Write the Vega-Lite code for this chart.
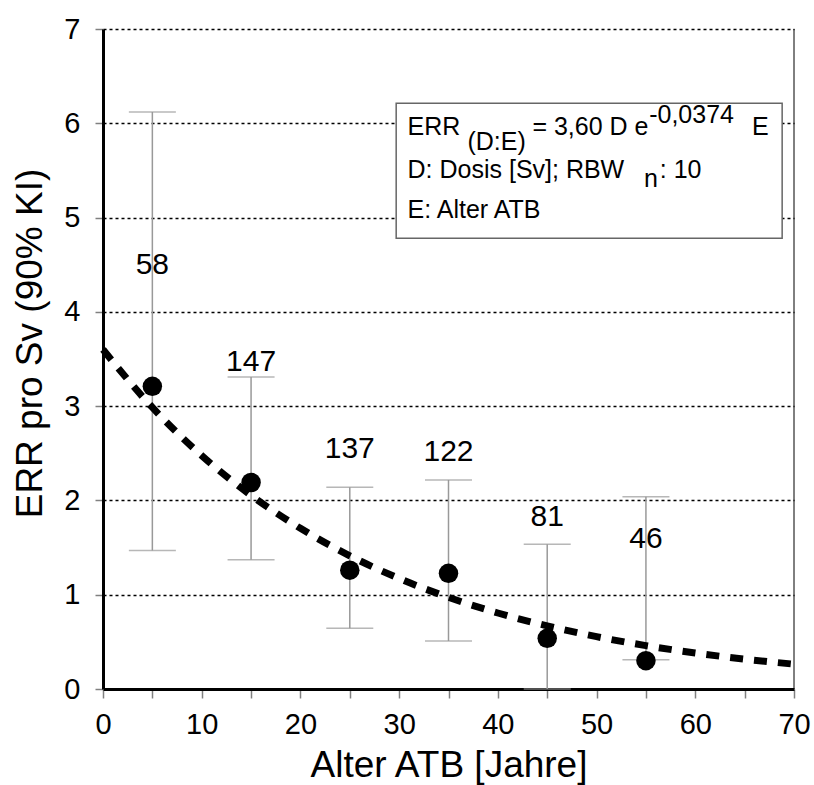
{
  "$schema": "https://vega.github.io/schema/vega-lite/v6.json",
  "width": 691,
  "height": 660,
  "autosize": {"type": "none"},
  "padding": {"left": 103, "top": 29, "right": 20, "bottom": 96},
  "background": "white",
  "config": {
    "view": {"stroke": null},
    "font": "Liberation Sans",
    "axisX": {"domainColor": "black", "domainWidth": 3, "tickColor": "#808080", "tickSize": 9, "tickWidth": 1.5, "labelFontSize": 29, "labelColor": "black", "labelPadding": 12, "titleFontSize": 37, "titleFontWeight": "normal", "titleColor": "black", "titlePadding": 8, "grid": false, "labelFlush": false, "zindex": 1},
    "axisY": {"domainColor": "black", "domainWidth": 3, "tickColor": "#808080", "tickSize": 8, "tickWidth": 1.5, "labelFontSize": 29, "labelColor": "black", "labelPadding": 15, "titleFontSize": 37, "titleFontWeight": "normal", "titleColor": "black", "titlePadding": 14, "gridDash": [3, 3], "gridWidth": 1.5, "labelFlush": false}
  },
  "datasets": {
    "pts": [
      {"age": 5, "err": 3.21, "lo": 1.47, "hi": 6.12, "n": "58", "ly": 4.50},
      {"age": 15, "err": 2.19, "lo": 1.37, "hi": 3.31, "n": "147", "ly": 3.47},
      {"age": 25, "err": 1.26, "lo": 0.644, "hi": 2.14, "n": "137", "ly": 2.545},
      {"age": 35, "err": 1.227, "lo": 0.509, "hi": 2.217, "n": "122", "ly": 2.51},
      {"age": 45, "err": 0.538, "lo": 0.0, "hi": 1.535, "n": "81", "ly": 1.82},
      {"age": 55, "err": 0.30, "lo": 0.31, "hi": 2.04, "n": "46", "ly": 1.59}
    ],
    "fit": [
      {"age": 0, "fit": 3.60}, {"age": 5, "fit": 2.986}, {"age": 10, "fit": 2.476}, {"age": 15, "fit": 2.054},
      {"age": 20, "fit": 1.704}, {"age": 25, "fit": 1.413}, {"age": 30, "fit": 1.172}, {"age": 35, "fit": 0.972},
      {"age": 40, "fit": 0.806}, {"age": 45, "fit": 0.669}, {"age": 50, "fit": 0.555}, {"age": 55, "fit": 0.460},
      {"age": 60, "fit": 0.382}, {"age": 65, "fit": 0.317}, {"age": 70, "fit": 0.263}
    ],
    "box": [{"x1": 29.7, "x2": 68.8, "y1": 4.78, "y2": 6.212}],
    "anno": [
      {"ax": 30.85, "ay": 5.876, "t": "ERR"},
      {"ax": 36.92, "ay": 5.717, "t": "(D:E)"},
      {"ax": 43.5, "ay": 5.876, "t": "= 3,60 D e"},
      {"ax": 55.33, "ay": 6.0, "t": "-0,0374"},
      {"ax": 65.75, "ay": 5.876, "t": "E"},
      {"ax": 30.85, "ay": 5.416, "t": "D: Dosis [Sv]; RBW"},
      {"ax": 54.8, "ay": 5.327, "t": "n"},
      {"ax": 56.4, "ay": 5.416, "t": ": 10"},
      {"ax": 30.85, "ay": 4.992, "t": "E: Alter ATB"}
    ],
    "one": [{}]
  },
  "layer": [
    {
      "data": {"name": "pts"},
      "mark": {"type": "rule", "color": "#999999", "strokeWidth": 1.5},
      "encoding": {
        "x": {"field": "age", "type": "quantitative", "scale": {"domain": [0, 70], "nice": false, "zero": false},
              "axis": {"title": "Alter ATB [Jahre]", "format": "d", "values": [0, 5, 10, 15, 20, 25, 30, 35, 40, 45, 50, 55, 60, 65, 70], "labelExpr": "datum.value % 10 === 0 ? datum.label : ''"}},
        "y": {"field": "lo", "type": "quantitative", "scale": {"domain": [0, 7], "nice": false},
              "axis": {"title": "ERR pro Sv (90% KI)", "titleY": 314, "format": "d", "values": [0, 0.5, 1, 1.5, 2, 2.5, 3, 3.5, 4, 4.5, 5, 5.5, 6, 6.5, 7], "labelExpr": "datum.value % 1 === 0 ? format(datum.value, 'd') : ''", "grid": true,
                       "gridColor": {"condition": {"test": "datum.value % 1 === 0 && datum.value > 0", "value": "black"}, "value": "transparent"}}},
        "y2": {"field": "hi"}
      }
    },
    {
      "data": {"name": "pts"},
      "mark": {"type": "tick", "orient": "horizontal", "color": "#999999", "size": 47, "thickness": 1.5},
      "encoding": {
        "x": {"field": "age", "type": "quantitative"},
        "y": {"field": "lo", "type": "quantitative"}
      }
    },
    {
      "data": {"name": "pts"},
      "mark": {"type": "tick", "orient": "horizontal", "color": "#999999", "size": 47, "thickness": 1.5},
      "encoding": {
        "x": {"field": "age", "type": "quantitative"},
        "y": {"field": "hi", "type": "quantitative"}
      }
    },
    {
      "data": {"name": "fit"},
      "mark": {"type": "line", "color": "black", "strokeWidth": 7, "strokeDash": [13, 11], "interpolate": "monotone"},
      "encoding": {
        "x": {"field": "age", "type": "quantitative"},
        "y": {"field": "fit", "type": "quantitative"}
      }
    },
    {
      "data": {"name": "pts"},
      "mark": {"type": "point", "shape": "circle", "filled": true, "color": "black", "size": 380, "opacity": 1},
      "encoding": {
        "x": {"field": "age", "type": "quantitative"},
        "y": {"field": "err", "type": "quantitative"}
      }
    },
    {
      "data": {"name": "pts"},
      "mark": {"type": "text", "fontSize": 30, "color": "black", "align": "center", "baseline": "middle"},
      "encoding": {
        "x": {"field": "age", "type": "quantitative"},
        "y": {"field": "ly", "type": "quantitative"},
        "text": {"field": "n"}
      }
    },
    {
      "data": {"name": "box"},
      "mark": {"type": "rect", "fill": "white", "stroke": "#666666", "strokeWidth": 1.5},
      "encoding": {
        "x": {"field": "x1", "type": "quantitative"},
        "x2": {"field": "x2"},
        "y": {"field": "y1", "type": "quantitative"},
        "y2": {"field": "y2"}
      }
    },
    {
      "data": {"name": "anno"},
      "mark": {"type": "text", "fontSize": 25, "color": "black", "align": "left", "baseline": "alphabetic"},
      "encoding": {
        "x": {"field": "ax", "type": "quantitative"},
        "y": {"field": "ay", "type": "quantitative"},
        "text": {"field": "t"}
      }
    },
    {
      "data": {"name": "one"},
      "mark": {"type": "rule", "color": "black", "strokeWidth": 1},
      "encoding": {"x": {"datum": 70, "type": "quantitative"}}
    }
  ]
}
